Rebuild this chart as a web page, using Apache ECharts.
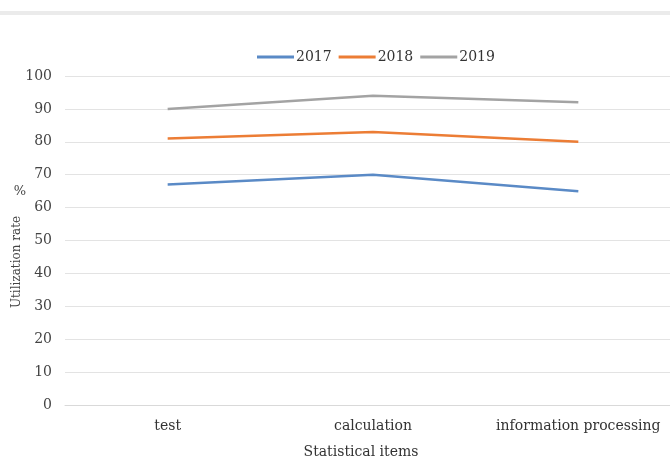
<!DOCTYPE html>
<html><head><meta charset="utf-8">
<script src="https://cdn.jsdelivr.net/npm/echarts@6/dist/echarts.min.js"></script>
<style>html,body{margin:0;padding:0;background:#fff}#c{width:670px;height:461px}</style>
</head><body><div id="c"></div>
<script>
var categories = ['test', 'calculation', 'information processing'];
var s2017 = [67, 70, 65];
var s2018 = [81, 83, 80];
var s2019 = [90, 94, 92];
var seriesNames = ['2017', '2018', '2019'];
var yTicks = [0, 10, 20, 30, 40, 50, 60, 70, 80, 90, 100];
var yTitle = 'Utilization rate';
var yUnit = '%';
var xTitle = 'Statistical items';

var font = 'DejaVu Serif';
var chart = echarts.init(document.getElementById('c'));
var colors = ['#5a8ac6', '#ec7d35', '#a3a3a3'];
var data = [s2017, s2018, s2019];
chart.setOption({
  animation: false,
  color: colors,
  textStyle: { fontFamily: font },
  legend: {
    top: 45, left: 252,
    itemWidth: 37, itemHeight: 3, itemGap: 7,
    icon: 'rect',
    textStyle: { fontFamily: font, fontSize: 14, color: '#333', padding: [0, 0, 0, -3] },
    data: seriesNames
  },
  grid: { left: 65, width: 616, top: 76, bottom: 56, containLabel: false, outerBoundsMode: 'none' },
  xAxis: {
    type: 'category', data: categories, boundaryGap: true,
    name: xTitle, nameLocation: 'middle', nameGap: 40,
    nameTextStyle: { fontFamily: font, fontSize: 14, color: '#333', padding: [0, 0, 0, -24] },
    axisLine: { lineStyle: { color: '#d9d9d9', width: 1 } },
    axisTick: { show: false },
    axisLabel: { fontFamily: font, fontSize: 14, color: '#333', margin: 14, interval: 0 }
  },
  yAxis: {
    type: 'value', min: yTicks[0], max: yTicks[yTicks.length - 1], interval: 10,
    axisLine: { show: false }, axisTick: { show: false },
    axisLabel: { fontFamily: font, fontSize: 14, color: '#444', margin: 13 },
    splitLine: { lineStyle: { color: '#e3e3e3', width: 1 } }
  },
  graphic: [
    { type: 'rect', shape: { x: 0, y: 11, width: 670, height: 4 }, style: { fill: '#ebebeb' } },
    { type: 'text', x: 20, y: 192, style: { text: yUnit, font: '13px ' + font, fill: '#444', align: 'center', verticalAlign: 'middle' } },
    { type: 'text', x: 17, y: 262, rotation: Math.PI / 2, style: { text: yTitle, font: '12px ' + font, fill: '#444', align: 'center', verticalAlign: 'middle' } }
  ],
  series: seriesNames.map(function (n, i) {
    return {
      name: n, type: 'line', data: data[i], symbol: 'none',
      lineStyle: { width: 2.5, color: colors[i] }
    };
  })
});
</script></body></html>
